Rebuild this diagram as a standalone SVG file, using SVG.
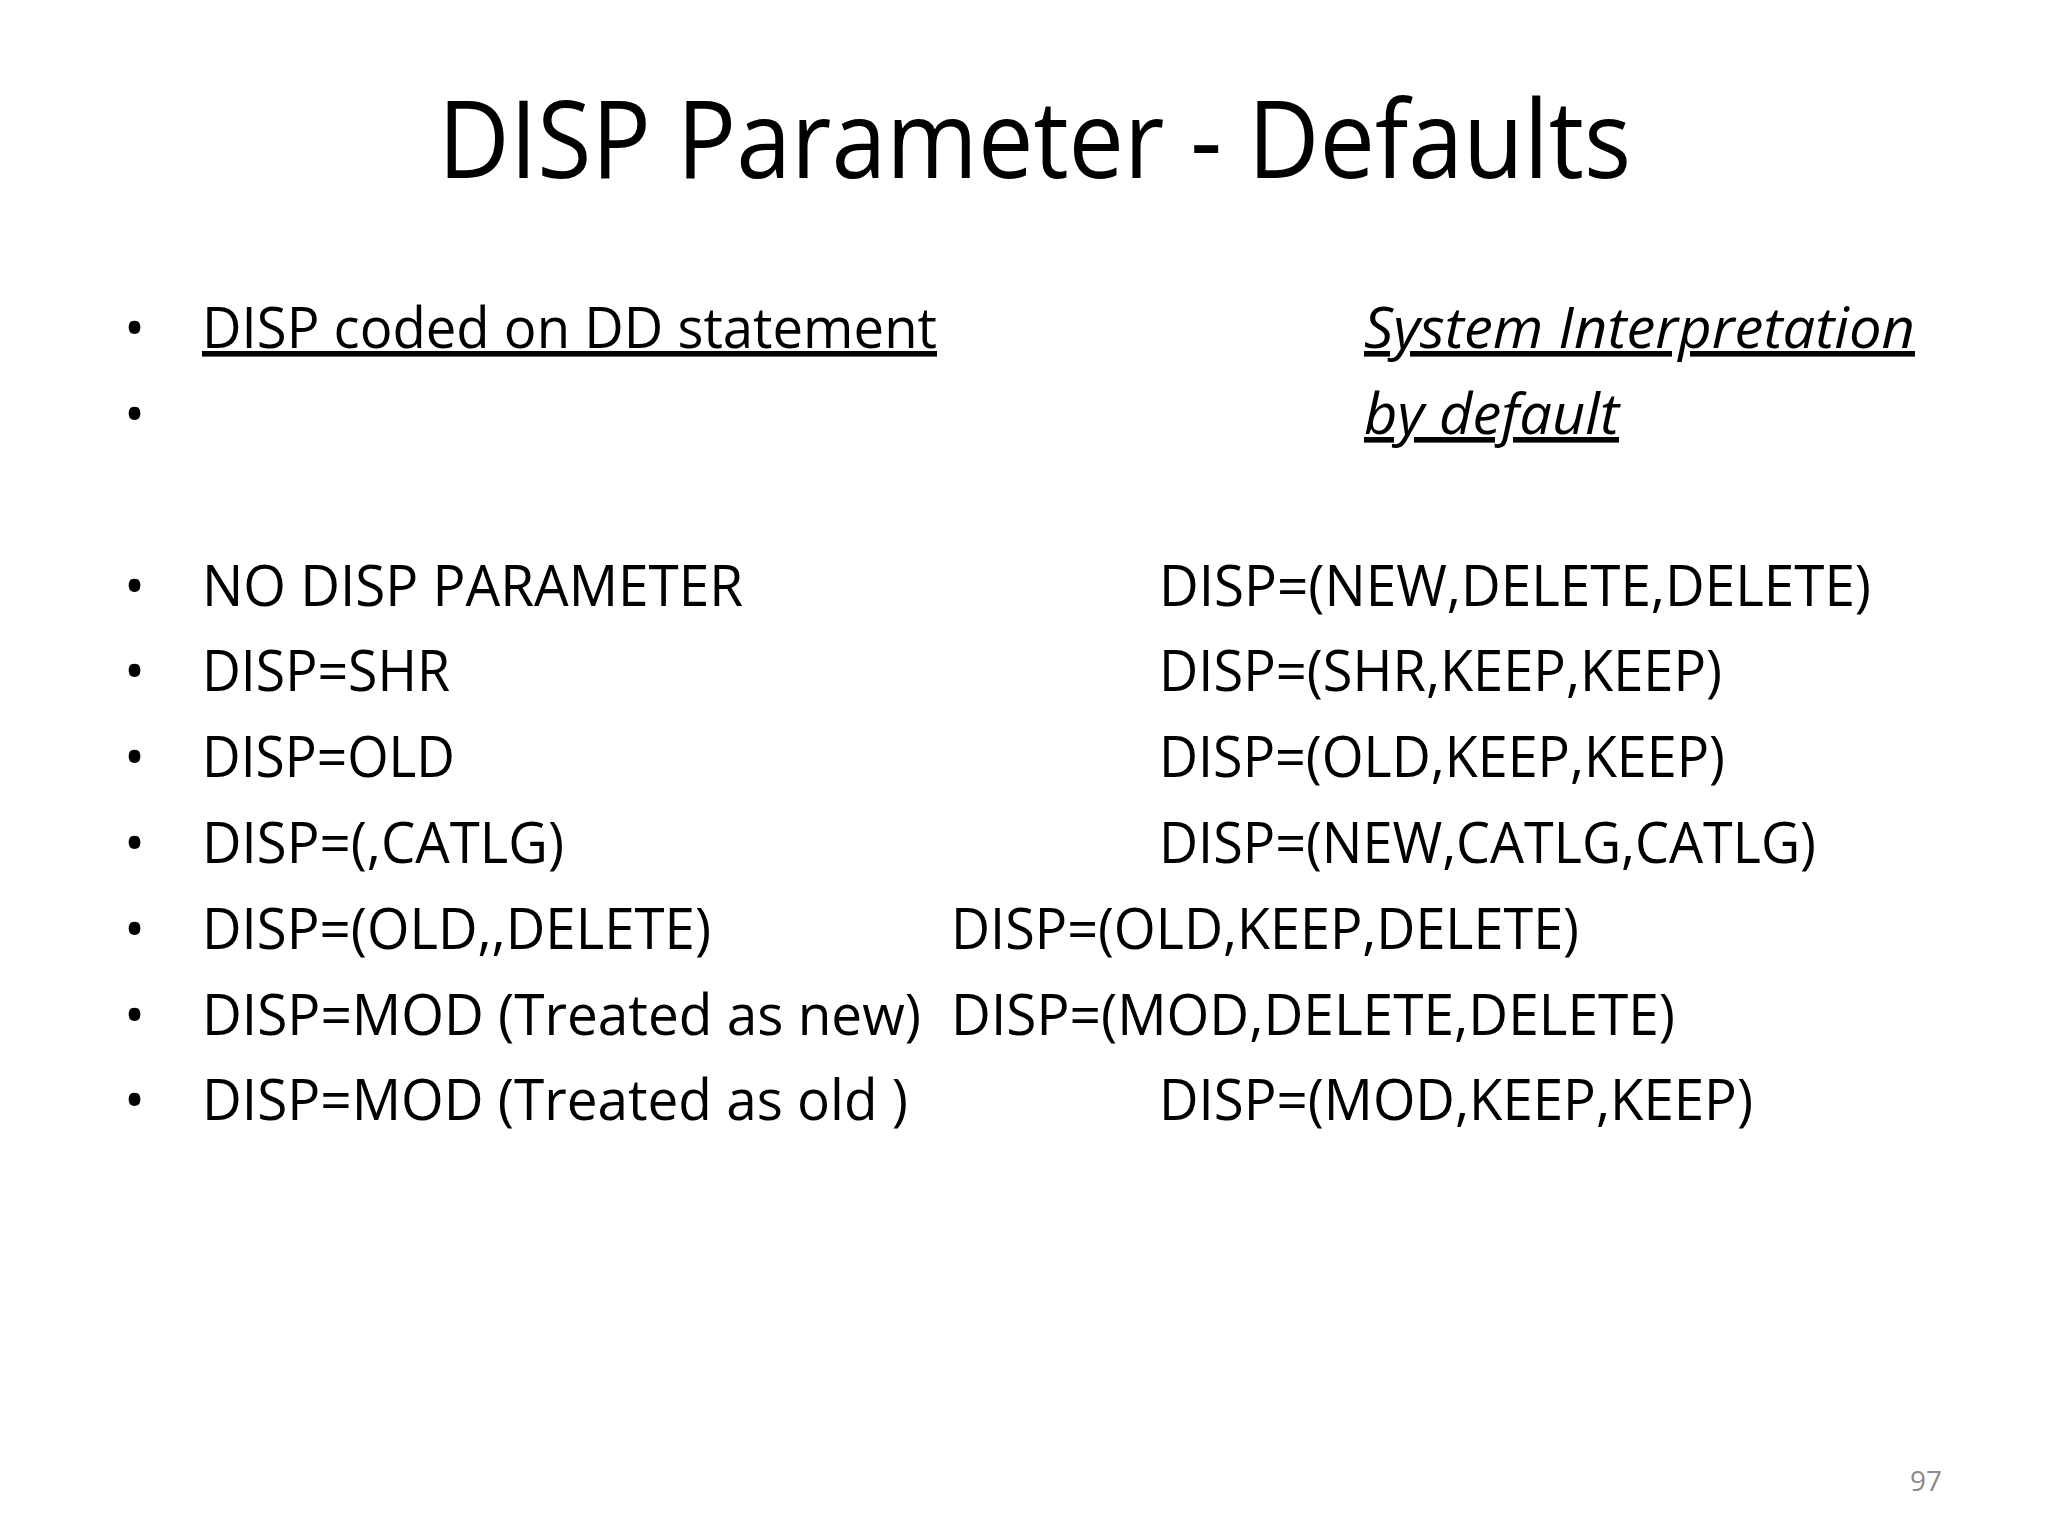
<svg xmlns="http://www.w3.org/2000/svg" width="2048" height="1536" viewBox="0 0 2048 1536">
<style>
text{font-family:"Open Sans","Noto Sans","Liberation Sans",sans-serif;fill:#000}
.t{font-size:56px}
.i{font-style:italic;text-decoration:underline}
.u{text-decoration:underline}
</style>
<rect width="2048" height="1536" fill="#fff"/>
<text x="438" y="178" font-size="108" textLength="1193" lengthAdjust="spacingAndGlyphs">DISP Parameter - Defaults</text>
<g class="t">
<text class="t" x="124" y="348">•</text>
<text class="t" x="124" y="434">•</text>
<text class="t" x="124" y="606">•</text>
<text class="t" x="124" y="691">•</text>
<text class="t" x="124" y="777">•</text>
<text class="t" x="124" y="863">•</text>
<text class="t" x="124" y="949">•</text>
<text class="t" x="124" y="1035">•</text>
<text class="t" x="124" y="1120">•</text>
</g>
<text class="t u" x="202" y="348" textLength="735" lengthAdjust="spacingAndGlyphs">DISP coded on DD statement</text>
<text class="t i" x="1364" y="348" textLength="551" lengthAdjust="spacingAndGlyphs">System Interpretation</text>
<text class="t i" x="1364" y="434" textLength="255" lengthAdjust="spacingAndGlyphs">by default</text>
<text class="t" x="202" y="606" textLength="541" lengthAdjust="spacingAndGlyphs">NO DISP PARAMETER</text>
<text class="t" x="202" y="691" textLength="248" lengthAdjust="spacingAndGlyphs">DISP=SHR</text>
<text class="t" x="202" y="777" textLength="253" lengthAdjust="spacingAndGlyphs">DISP=OLD</text>
<text class="t" x="202" y="863" textLength="362" lengthAdjust="spacingAndGlyphs">DISP=(,CATLG)</text>
<text class="t" x="202" y="949" textLength="509" lengthAdjust="spacingAndGlyphs">DISP=(OLD,,DELETE)</text>
<text class="t" x="202" y="1035" textLength="719" lengthAdjust="spacingAndGlyphs">DISP=MOD (Treated as new)</text>
<text class="t" x="202" y="1120" textLength="706" lengthAdjust="spacingAndGlyphs">DISP=MOD (Treated as old )</text>
<text class="t" x="1159" y="606" textLength="712" lengthAdjust="spacingAndGlyphs">DISP=(NEW,DELETE,DELETE)</text>
<text class="t" x="1159" y="691" textLength="563" lengthAdjust="spacingAndGlyphs">DISP=(SHR,KEEP,KEEP)</text>
<text class="t" x="1159" y="777" textLength="566" lengthAdjust="spacingAndGlyphs">DISP=(OLD,KEEP,KEEP)</text>
<text class="t" x="1159" y="863" textLength="657" lengthAdjust="spacingAndGlyphs">DISP=(NEW,CATLG,CATLG)</text>
<text class="t" x="951" y="949" textLength="628" lengthAdjust="spacingAndGlyphs">DISP=(OLD,KEEP,DELETE)</text>
<text class="t" x="951" y="1035" textLength="724" lengthAdjust="spacingAndGlyphs">DISP=(MOD,DELETE,DELETE)</text>
<text class="t" x="1159" y="1120" textLength="594" lengthAdjust="spacingAndGlyphs">DISP=(MOD,KEEP,KEEP)</text>
<text x="1910" y="1491" font-size="28" style="fill:#8a8a8a">97</text>
</svg>
